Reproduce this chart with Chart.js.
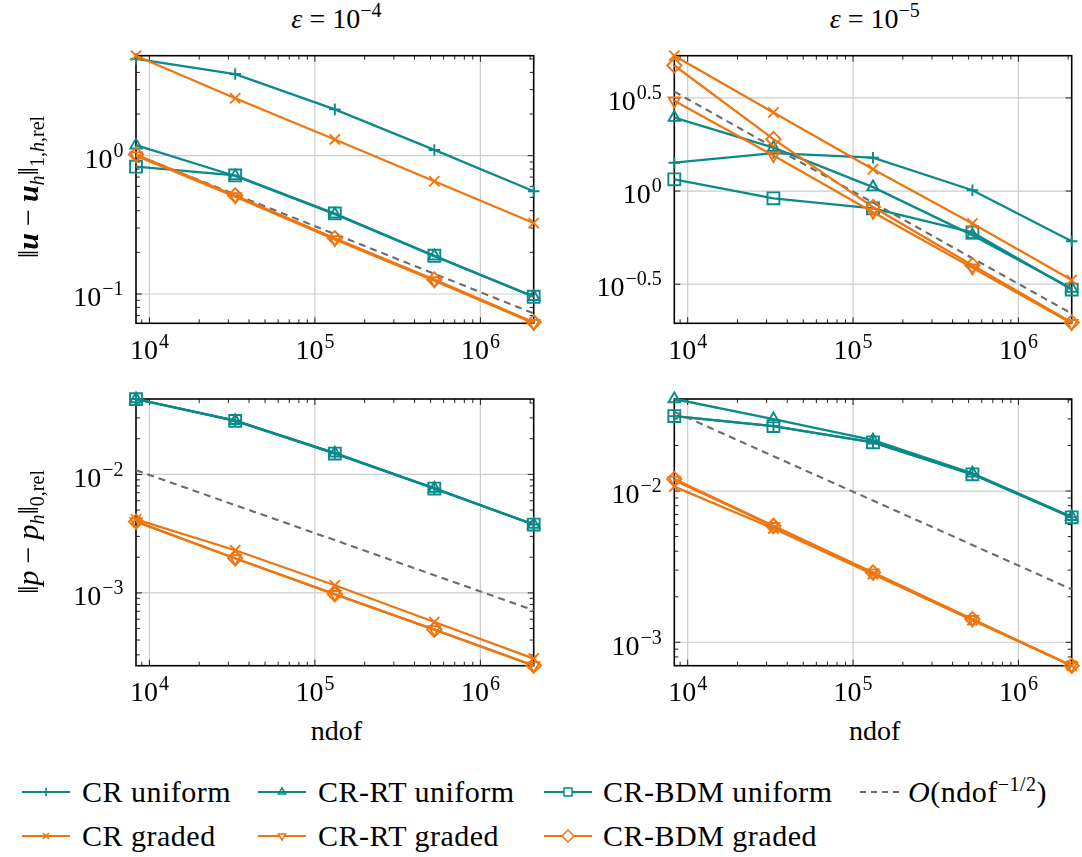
<!DOCTYPE html>
<html><head><meta charset="utf-8">
<script src="https://cdn.jsdelivr.net/npm/chart.js@4.4.0/dist/chart.umd.min.js"></script>
<style>
html,body{margin:0;padding:0;background:#fff;width:1082px;height:857px;overflow:hidden;}
body{position:relative;font-family:"Liberation Serif","DejaVu Serif",serif;color:#000;}
canvas{position:absolute;}
.t{position:absolute;font-family:"Liberation Serif","DejaVu Serif",serif;font-size:28px;line-height:1;white-space:nowrap;transform:translate(-50%,-50%);}
.rot{transform:translate(-50%,-50%) rotate(-90deg);font-size:30px;}
.m{margin:0 7px;}
sup{font-size:20px;vertical-align:0;position:relative;top:-11px;}
sub{font-size:20px;vertical-align:0;position:relative;top:6px;}
.leg{position:absolute;font-family:"Liberation Serif","DejaVu Serif",serif;font-size:30px;letter-spacing:0.5px;line-height:1;white-space:nowrap;transform:translateY(-50%);}
.sw{position:absolute;transform:translateY(-50%);}
</style></head>
<body>
<canvas id="tl"></canvas><canvas id="tr"></canvas><canvas id="bl"></canvas><canvas id="br"></canvas>

<div class="t" style="left:336.4px;top:19px"><i>ε</i> = 10<sup>−4</sup></div>
<div class="t" style="left:874.7px;top:19px"><i>ε</i> = 10<sup>−5</sup></div>
<div class="t rot" style="left:28px;top:187px">‖<b><i>u</i></b><span class="m">−</span><b><i>u</i></b><sub><i>h</i></sub>‖<sub>1,<i>h</i>,rel</sub></div>
<div class="t rot" style="left:28px;top:532.3px">‖<i>p</i><span class="m">−</span><i>p</i><sub><i>h</i></sub>‖<sub>0,rel</sub></div>
<div class="t" style="left:336.4px;top:731px">ndof</div>
<div class="t" style="left:874.7px;top:731px">ndof</div>
<div id="legend"></div>

<script>
// ---------------- data ----------------
const ndof = [8.3e3, 3.3e4, 1.32e5, 5.27e5, 2.1e6];
const seriesNames = ['CR uniform', 'CR-RT uniform', 'CR-BDM uniform', 'O(ndof^-1/2)', 'CR graded', 'CR-RT graded', 'CR-BDM graded'];

// eps = 1e-4, energy error
const tl_crUniform  = [5.0, 3.89, 2.16, 1.10, 0.553];
const tl_rtUniform  = [1.19, 0.713, 0.377, 0.188, 0.0957];
const tl_bdmUniform = [0.833, 0.72, 0.382, 0.189, 0.0955];
const tl_ref        = [1.01, 0.524, 0.271, 0.140, 0.0724];
const tl_crGraded   = [5.28, 2.60, 1.31, 0.653, 0.326];
const tl_rtGraded   = [1.0, 0.506, 0.248, 0.125, 0.0614];
const tl_bdmGraded  = [1.02, 0.515, 0.253, 0.127, 0.0625];

// eps = 1e-5, energy error
const tr_crUniform  = [1.42, 1.60, 1.51, 1.01, 0.538];
const tr_rtUniform  = [2.48, 1.71, 1.05, 0.58, 0.30];
const tr_bdmUniform = [1.156, 0.914, 0.807, 0.60, 0.296];
const tr_ref        = [3.42, 1.72, 0.867, 0.436, 0.220];
const tr_crGraded   = [5.33, 2.64, 1.31, 0.67, 0.333];
const tr_rtGraded   = [3.05, 1.55, 0.77, 0.387, 0.195];
const tr_bdmGraded  = [4.72, 1.90, 0.82, 0.40, 0.197];

// eps = 1e-4, pressure error
const bl_crUniform  = [0.0433, 0.0284, 0.0151, 0.00762, 0.00378];
const bl_rtUniform  = [0.0433, 0.0284, 0.0151, 0.00762, 0.00378];
const bl_bdmUniform = [0.0432, 0.0283, 0.0150, 0.0076, 0.00377];
const bl_ref        = [0.01086, 0.0055, 0.00279, 0.00141, 0.000714];
const bl_crGraded   = [0.00417, 0.00229, 0.00116, 0.000568, 0.000279];
const bl_rtGraded   = [0.0040, 0.00195, 0.000973, 0.00049, 0.000243];
const bl_bdmGraded  = [0.0040, 0.00196, 0.000975, 0.00049, 0.000244];

// eps = 1e-5, pressure error
const br_crUniform  = [0.0313, 0.0269, 0.0210, 0.0129, 0.0067];
const br_rtUniform  = [0.0406, 0.0299, 0.0217, 0.0131, 0.00676];
const br_bdmUniform = [0.0313, 0.0269, 0.0210, 0.0129, 0.0067];
const br_ref        = [0.0334, 0.0170, 0.00865, 0.0044, 0.00224];
const br_crGraded   = [0.0107, 0.00565, 0.00282, 0.00140, 0.0007];
const br_rtGraded   = [0.0118, 0.00585, 0.00288, 0.00142, 0.0007];
const br_bdmGraded  = [0.0120, 0.00588, 0.00289, 0.00142, 0.0007];

// tick exponents
const xTickExps = [4, 5, 6];
const tlYTickExps = [-1, 0];
const trYTickExps = [-0.5, 0, 0.5];
const blYTickExps = [-3, -2];
const brYTickExps = [-3, -2];

// ---------------- styles ----------------
const TEAL = '#0a8a8a', ORANGE = '#ee7611', GRAY = '#6b6b6b';
const styles = [
  {color: TEAL, pointStyle: 'cross', r: 5.8, rot: 0},
  {color: TEAL, pointStyle: 'triangle', r: 6.6, rot: 0},
  {color: TEAL, pointStyle: 'rect', r: 8.4, rot: 0},
  {color: GRAY, pointStyle: false, r: 0, rot: 0, dash: [7, 5]},
  {color: ORANGE, pointStyle: 'crossRot', r: 7.2, rot: 0},
  {color: ORANGE, pointStyle: 'triangle', r: 6.6, rot: 180},
  {color: ORANGE, pointStyle: 'rectRot', r: 7.2, rot: 0},
];

const FONT = '"Liberation Serif", "DejaVu Serif", serif';

function fmtExp(e) {
  const s = String(Math.abs(e));
  return (e < 0 ? '\u2212' : '') + s;
}

const pgfAxes = {
  id: 'pgfAxes',
  beforeDatasetsDraw(chart, args, opts) {
    const {ctx, chartArea: a, scales: {x, y}} = chart;
    ctx.save();
    // grid
    ctx.strokeStyle = '#cdcdcd';
    ctx.lineWidth = 1.2;
    for (const e of opts.xTicks) {
      const px = x.getPixelForValue(Math.pow(10, e));
      ctx.beginPath(); ctx.moveTo(px, a.top); ctx.lineTo(px, a.bottom); ctx.stroke();
    }
    for (const e of opts.yTicks) {
      const py = y.getPixelForValue(Math.pow(10, e));
      ctx.beginPath(); ctx.moveTo(a.left, py); ctx.lineTo(a.right, py); ctx.stroke();
    }
    // ticks
    ctx.strokeStyle = '#222';
    ctx.lineWidth = 1;
    const minors = (lo, hi) => {
      const out = [];
      for (let n = Math.floor(Math.log10(lo)) - 1; n <= Math.ceil(Math.log10(hi)); n++) {
        for (let k = 2; k <= 9; k++) { const v = k * Math.pow(10, n); if (v > lo && v < hi) out.push(v); }
      }
      return out;
    };
    const xm = minors(x.min, x.max), ym = opts.yMinor ? minors(y.min, y.max) : [];
    const drawX = (v, len) => {
      const px = x.getPixelForValue(v);
      ctx.beginPath(); ctx.moveTo(px, a.bottom); ctx.lineTo(px, a.bottom - len);
      ctx.moveTo(px, a.top); ctx.lineTo(px, a.top + len); ctx.stroke();
    };
    const drawY = (v, len) => {
      const py = y.getPixelForValue(v);
      ctx.beginPath(); ctx.moveTo(a.left, py); ctx.lineTo(a.left + len, py);
      ctx.moveTo(a.right, py); ctx.lineTo(a.right - len, py); ctx.stroke();
    };
    xm.forEach(v => drawX(v, 4));
    ym.forEach(v => drawY(v, 4));
    opts.xTicks.forEach(e => drawX(Math.pow(10, e), 6));
    opts.yTicks.forEach(e => drawY(Math.pow(10, e), 6));
    // frame
    ctx.strokeStyle = '#000';
    ctx.lineWidth = 1.6;
    ctx.strokeRect(a.left, a.top, a.right - a.left, a.bottom - a.top);
    ctx.restore();
  },
  afterDraw(chart, args, opts) {
    const {ctx, chartArea: a, scales: {x, y}} = chart;
    ctx.save();
    ctx.fillStyle = '#000';
    ctx.textBaseline = 'alphabetic';
    const big = '28px ' + FONT, small = '20px ' + FONT;
    const label = (e, cx, baseline, align) => {
      ctx.font = big; const w1 = ctx.measureText('10').width;
      ctx.font = small; const es = fmtExp(e); const w2 = ctx.measureText(es).width;
      const tot = w1 + w2 + 1;
      const left = align === 'center' ? cx - tot / 2 : cx - tot;
      ctx.font = big; ctx.fillText('10', left, baseline);
      ctx.font = small; ctx.fillText(es, left + w1 + 1, baseline - 11);
    };
    for (const e of opts.xTicks) {
      const px = x.getPixelForValue(Math.pow(10, e));
      label(e, px, a.bottom + 35.7, 'center');
    }
    for (const e of opts.yTicks) {
      const py = y.getPixelForValue(Math.pow(10, e));
      label(e, a.left - 12.5, py + 12.3, 'right');
    }
    ctx.restore();
  }
};

function makePanel(id, plot, series, yTicks, yMinor) {
  const [pl, pt, pr, pb] = plot;
  const cl = Math.floor(pl - 100), ct = Math.floor(pt - 20);
  const cr = Math.min(1082, Math.ceil(pr + 7)), cb = Math.ceil(pb + 45);
  const cv = document.getElementById(id);
  cv.width = cr - cl; cv.height = cb - ct;
  cv.style.left = cl + 'px'; cv.style.top = ct + 'px';
  cv.style.width = (cr - cl) + 'px'; cv.style.height = (cb - ct) + 'px';
  const all = series.flat();
  const datasets = series.map((vals, i) => {
    const s = styles[i];
    return {
      label: seriesNames[i],
      data: vals.map((v, j) => ({x: ndof[j], y: v})),
      borderColor: s.color,
      backgroundColor: 'rgba(0,0,0,0)',
      borderWidth: s.dash ? 2.1 : 2.3,
      borderDash: s.dash || [],
      pointStyle: s.pointStyle,
      pointRadius: s.r,
      pointBorderWidth: 1.9,
      pointRotation: s.rot,
      pointBackgroundColor: 'rgba(0,0,0,0)',
      pointBorderColor: s.color,
      tension: 0,
      clip: false,
      order: series.length - i
    };
  });
  new Chart(cv, {
    type: 'line',
    data: {datasets},
    options: {
      responsive: false, animation: false, devicePixelRatio: 1,
      events: [],
      layout: {padding: {left: pl - cl, top: pt - ct, right: cr - pr, bottom: cb - pb}},
      plugins: {legend: {display: false}, tooltip: {enabled: false},
        pgfAxes: {xTicks: xTickExps, yTicks: yTicks, yMinor: yMinor}},
      scales: {
        x: {type: 'logarithmic', display: false, min: Math.min(...ndof), max: Math.max(...ndof)},
        y: {type: 'logarithmic', display: false, min: Math.min(...all), max: Math.max(...all)}
      }
    },
    plugins: [pgfAxes]
  });
}

makePanel('tl', [136, 55.7, 536.7, 323.3],
  [tl_crUniform, tl_rtUniform, tl_bdmUniform, tl_ref, tl_crGraded, tl_rtGraded, tl_bdmGraded], tlYTickExps, true);
makePanel('tr', [674.3, 55.7, 1075, 323.3],
  [tr_crUniform, tr_rtUniform, tr_bdmUniform, tr_ref, tr_crGraded, tr_rtGraded, tr_bdmGraded], trYTickExps, false);
makePanel('bl', [136, 399, 536.7, 665.7],
  [bl_crUniform, bl_rtUniform, bl_bdmUniform, bl_ref, bl_crGraded, bl_rtGraded, bl_bdmGraded], blYTickExps, true);
makePanel('br', [674.3, 399, 1075, 665.7],
  [br_crUniform, br_rtUniform, br_bdmUniform, br_ref, br_crGraded, br_rtGraded, br_bdmGraded], brYTickExps, true);

// ---------------- legend ----------------
const legendOrder = [0, 1, 2, 3, 4, 5, 6];
const legRows = [792, 836];
const legSwatchX = [22, 258, 544, 858];
const legTextX = [82, 318, 603, 908];
const legendHTML = [];
function markerSVG(s, cx, cy) {
  const c = s.color, r = 4.2;
  switch (s.pointStyle) {
    case 'cross': return `<path d="M${cx-r} ${cy}H${cx+r}M${cx} ${cy-r}V${cy+r}" stroke="${c}" stroke-width="1.6" fill="none"/>`;
    case 'crossRot': return `<path d="M${cx-3} ${cy-3}L${cx+3} ${cy+3}M${cx-3} ${cy+3}L${cx+3} ${cy-3}" stroke="${c}" stroke-width="1.6" fill="none"/>`;
    case 'triangle': {
      const d = s.rot ? 1 : -1;
      return `<path d="M${cx} ${cy + d*r}L${cx+r*0.87} ${cy - d*r/2}L${cx-r*0.87} ${cy - d*r/2}Z" stroke="${c}" stroke-width="1.5" fill="${s.rot ? '#fff' : 'none'}"/>`;
    }
    case 'rect': return `<rect x="${cx-4}" y="${cy-4}" width="8" height="8" stroke="${c}" stroke-width="1.5" fill="#fff"/>`;
    case 'rectRot': return `<path d="M${cx-6} ${cy}L${cx} ${cy-6}L${cx+6} ${cy}L${cx} ${cy+6}Z" stroke="${c}" stroke-width="1.5" fill="#fff"/>`;
  }
  return '';
}
legendOrder.forEach((idx, k) => {
  const row = k < 4 ? 0 : 1, col = k < 4 ? k : k - 4;
  const s = styles[idx];
  const y = legRows[row];
  let svg;
  if (s.dash) {
    svg = `<svg class="sw" style="left:${legSwatchX[col]}px;top:${y}px" width="44" height="20"><path d="M2 10H42" stroke="${s.color}" stroke-width="2" stroke-dasharray="6 5"/></svg>`;
  } else {
    svg = `<svg class="sw" style="left:${legSwatchX[col]}px;top:${y}px" width="48" height="20"><path d="M0 10H48" stroke="${s.color}" stroke-width="2.2"/>${markerSVG(s, 24, 10)}</svg>`;
  }
  let txt = seriesNames[idx];
  if (s.dash) txt = '<i>O</i>(ndof<sup>−1/2</sup>)';
  legendHTML.push(svg + `<div class="leg" style="left:${legTextX[col]}px;top:${y}px">${txt}</div>`);
});
document.getElementById('legend').innerHTML = legendHTML.join('');
</script>
</body></html>
